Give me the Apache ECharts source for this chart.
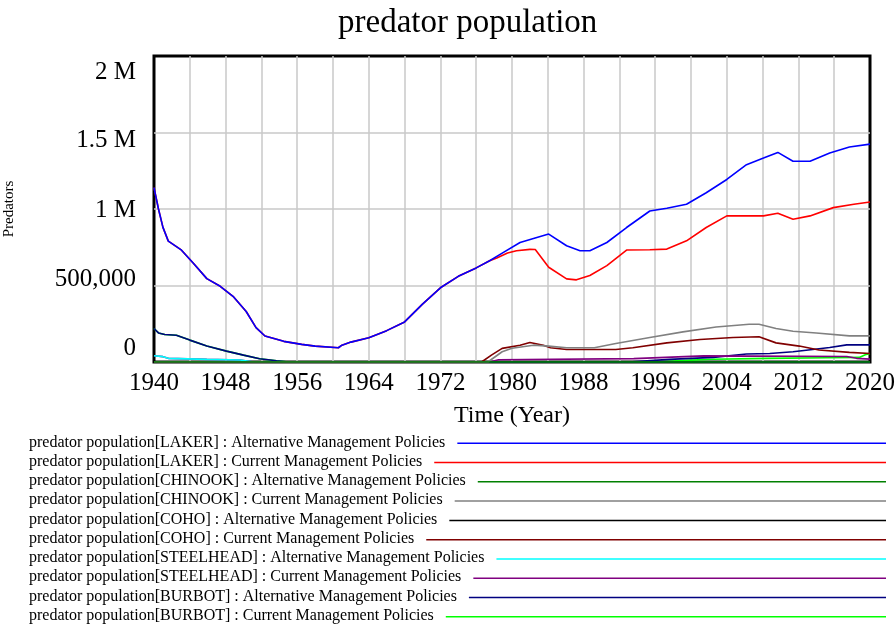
<!DOCTYPE html>
<html>
<head>
<meta charset="utf-8">
<script src="https://cdn.jsdelivr.net/npm/echarts@6/dist/echarts.min.js"></script>
<style>
  html, body { margin: 0; padding: 0; background: #fff; }
  #chart { width: 896px; height: 626px; }
</style>
</head>
<body>
<div id="chart"></div>
<script>
// tick labels
var xTicks = [1940, 1948, 1956, 1964, 1972, 1980, 1988, 1996, 2004, 2012, 2020]
var yTicks = [0, 500000, 1000000, 1500000, 2000000]
var yTickLabels = ['0', '500,000', '1 M', '1.5 M', '2 M']

// [year, predators]
var lakerAlt = [
  [1940, 1140000], [1940.5, 1000000], [1941, 880000], [1941.6, 790000], [1943, 735000],
  [1944.4, 645000], [1945.9, 545000], [1947.4, 495000], [1948.9, 425000], [1950.3, 330000],
  [1951.4, 225000], [1952.4, 170000], [1954.5, 135000], [1956.5, 115000], [1958, 104000],
  [1960.6, 93000], [1961, 110000], [1962, 130000], [1964, 158000], [1966, 205000],
  [1968, 262000], [1970, 378000], [1972, 485000], [1974, 560000], [1976, 615000],
  [1977.5, 662000], [1979, 715000], [1980.9, 781000], [1982.4, 807000], [1984.1, 836000],
  [1986.1, 760000], [1987.6, 727000], [1988.7, 727000], [1990.6, 781000], [1992.8, 879000],
  [1995.4, 987000], [1997.3, 1005000], [1999.5, 1031000], [2001.7, 1106000], [2004, 1193000],
  [2006.2, 1290000], [2008.1, 1333000], [2009.7, 1370000], [2011.4, 1312000], [2013.3, 1312000],
  [2015.5, 1366000], [2017.7, 1405000], [2020, 1424000]
]
var lakerCur = [
  [1940, 1140000], [1940.5, 1000000], [1941, 880000], [1941.6, 790000], [1943, 735000],
  [1944.4, 645000], [1945.9, 545000], [1947.4, 495000], [1948.9, 425000], [1950.3, 330000],
  [1951.4, 225000], [1952.4, 170000], [1954.5, 135000], [1956.5, 115000], [1958, 104000],
  [1960.6, 93000], [1961, 110000], [1962, 130000], [1964, 158000], [1966, 205000],
  [1968, 262000], [1970, 378000], [1972, 485000], [1974, 560000], [1976, 615000],
  [1977.5, 662000], [1978.3, 680000], [1979.5, 712000], [1980.5, 727000], [1982, 736000],
  [1982.6, 735000], [1984.1, 619000], [1986.1, 543000], [1987.2, 537000], [1988.7, 565000],
  [1990.6, 630000], [1992.8, 732000], [1995.4, 734000], [1997.3, 738000], [1999.5, 792000],
  [2001.7, 879000], [2004, 955000], [2008.1, 955000], [2009.7, 972000], [2011.4, 933000],
  [2013.3, 955000], [2015.9, 1009000], [2018.2, 1031000], [2020, 1046000]
]
var chinookAlt = [[1940, 0], [2020, 0]]
var chinookCur = [
  [1940, 0], [1977.3, 0], [1978.9, 67000], [1980, 90000], [1982.4, 110000], [1984.1, 104000],
  [1986.1, 93000], [1989.2, 93000], [1991.6, 121000], [1995.4, 160000], [1999.1, 197000],
  [2002.8, 229000], [2006.5, 247000], [2007.6, 247000], [2009.5, 219000], [2011.4, 201000],
  [2014, 190000], [2017.7, 171000], [2020, 171000]
]
var cohoAlt = [[1940, 0], [2020, 0]]
var cohoCur = [
  [1940, 0], [1976.6, 0], [1977.7, 45000], [1978.9, 89000], [1980.9, 110000], [1982, 128000],
  [1983.5, 110000], [1984.3, 93000], [1986.1, 82000], [1991.6, 82000], [1993.5, 93000],
  [1997.3, 125000], [2001, 147000], [2004.7, 160000], [2007.6, 165000], [2009.5, 125000],
  [2012.1, 104000], [2014.3, 78000], [2017.7, 63000], [2020, 56000]
]
var steelheadAlt = [
  [1940, 41000], [1941, 35000], [1941.6, 24000], [1945.9, 17000], [1949.6, 13000],
  [1951, 2000], [2020, 0]
]
var steelheadCur = [
  [1940, 41000], [1941, 35000], [1941.6, 24000], [1945.9, 17000], [1949.6, 13000],
  [1951, 2000], [1977.5, 0], [1978.5, 15000], [1993.6, 22000], [2001.4, 40000],
  [2017.4, 36000], [2018.5, 24000], [2020, 19000]
]
var burbotAlt = [
  [1940, 219000], [1940.5, 190000], [1941.2, 180000], [1942.5, 175000], [1944, 143000],
  [1945.9, 104000], [1948.1, 71000], [1950, 45000], [1951.8, 21000], [1953.7, 8000],
  [1955, 0], [1993, 0], [1997.6, 17000], [2002.5, 30000], [2006.2, 52000], [2008.8, 56000],
  [2011.4, 67000], [2013.6, 82000], [2015.5, 95000], [2017.4, 112000], [2020, 112000]
]
var burbotCur = [
  [1940, 219000], [1940.5, 190000], [1941.2, 180000], [1942.5, 175000], [1944, 143000],
  [1945.9, 104000], [1948.1, 71000], [1950, 45000], [1951.8, 21000], [1953.7, 8000],
  [1955, 0], [1996, 0], [2000, 12000], [2002.5, 18000], [2008.5, 24000], [2015.2, 28000],
  [2018.8, 30000], [2019.6, 50000], [2020, 55000]
]

var names = [
  'predator population[LAKER] : Alternative Management Policies',
  'predator population[LAKER] : Current Management Policies',
  'predator population[CHINOOK] : Alternative Management Policies',
  'predator population[CHINOOK] : Current Management Policies',
  'predator population[COHO] : Alternative Management Policies',
  'predator population[COHO] : Current Management Policies',
  'predator population[STEELHEAD] : Alternative Management Policies',
  'predator population[STEELHEAD] : Current Management Policies',
  'predator population[BURBOT] : Alternative Management Policies',
  'predator population[BURBOT] : Current Management Policies'
]
var colors = ['#0000ff', '#ff0000', '#008000', '#808080', '#000000',
  '#800000', '#00ffff', '#800080', '#000080', '#00ff00']
var datasets = [lakerAlt, lakerCur, chinookAlt, chinookCur, cohoAlt,
  cohoCur, steelheadAlt, steelheadCur, burbotAlt, burbotCur]

var serif = '"Liberation Serif", "Times New Roman", serif'
var myChart = echarts.init(document.getElementById('chart'))

// first series drawn on top, like the original tool
var series = datasets.map(function(d, i) {
  return {
    name: names[i],
    type: 'line',
    data: d,
    showSymbol: false,
    z: 20 - i,
    lineStyle: { color: colors[i], width: 1.6 },
    itemStyle: { color: colors[i] },
    animation: false
  }
})

// legend: text then a line out to the right edge
var ctx = document.createElement('canvas').getContext('2d')
ctx.font = '16px ' + serif
var graphics = []
names.forEach(function(n, i) {
  var y = 443.3 + i * 19.27
  var w = ctx.measureText(n).width
  graphics.push({
    type: 'text',
    left: 29,
    top: y - 9,
    style: { text: n, font: '16px ' + serif, fill: '#000' }
  })
  graphics.push({
    type: 'line',
    shape: { x1: 29 + w + 12, y1: y, x2: 886, y2: y },
    style: { stroke: colors[i], lineWidth: 1.5 }
  })
})

// labels are spread a bit tighter than the grid lines in the original
var richY = {
  t0: { fontSize: 25, fontFamily: serif, color: '#000', padding: [0, 0, 28, 0] },
  t1: { fontSize: 25, fontFamily: serif, color: '#000', padding: [0, 0, 13, 0] },
  t2: { fontSize: 25, fontFamily: serif, color: '#000', padding: [2, 0, 0, 0] },
  t3: { fontSize: 25, fontFamily: serif, color: '#000', padding: [16, 0, 0, 0] },
  t4: { fontSize: 25, fontFamily: serif, color: '#000', padding: [33, 0, 0, 0] }
}

var option = {
  backgroundColor: '#fff',
  animation: false,
  title: {
    text: 'predator population',
    left: 333,
    top: 2,
    textStyle: { fontFamily: serif, fontSize: 33, fontWeight: 'normal', color: '#000' }
  },
  grid: {
    left: 154,
    right: 26,
    top: 56,
    bottom: 264,
    outerBoundsMode: 'none',
    containLabel: false,
    show: true,
    borderColor: '#000',
    borderWidth: 3
  },
  xAxis: {
    type: 'value',
    min: 1940,
    max: 2020,
    interval: 4,
    name: 'Time (Year)',
    nameLocation: 'middle',
    nameGap: 42,
    nameTextStyle: { fontFamily: serif, fontSize: 24, color: '#000' },
    axisLine: { show: false },
    axisTick: { show: false },
    splitLine: {
      showMinLine: false,
      showMaxLine: false,
      lineStyle: { color: '#c8c8c8', width: 1.5 }
    },
    axisLabel: {
      margin: 9,
      fontFamily: serif,
      fontSize: 25,
      color: '#000',
      formatter: function(v) {
        return xTicks.indexOf(v) >= 0 ? String(v) : ''
      }
    }
  },
  yAxis: {
    type: 'value',
    min: 0,
    max: 2000000,
    interval: 500000,
    name: 'Predators',
    nameLocation: 'middle',
    nameGap: 137,
    nameTextStyle: { fontFamily: serif, fontSize: 15, color: '#000' },
    axisLine: { show: false },
    axisTick: { show: false },
    splitLine: {
      showMinLine: false,
      showMaxLine: false,
      lineStyle: { color: '#c8c8c8', width: 1.5 }
    },
    axisLabel: {
      margin: 18,
      fontFamily: serif,
      fontSize: 25,
      color: '#000',
      rich: richY,
      formatter: function(v) {
        var k = yTicks.indexOf(v)
        return '{t' + k + '|' + yTickLabels[k] + '}'
      }
    }
  },
  graphic: graphics,
  series: series
}
myChart.setOption(option)
</script>
</body>
</html>
